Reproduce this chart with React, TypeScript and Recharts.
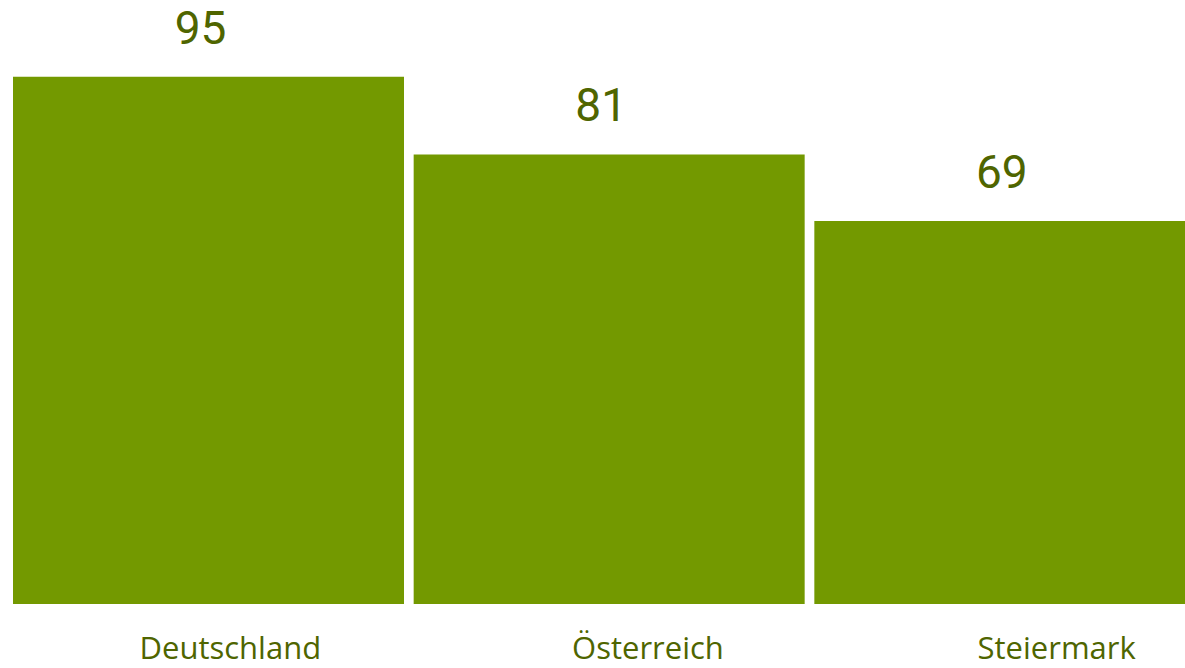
import { BarChart, Bar, XAxis, YAxis, LabelList } from "recharts";

const regions = ["Deutschland", "Österreich", "Steiermark"];
const scores = [95, 81, 69];

// horizontal nudges for the category captions (the source places them off-centre)
const tickShift = [22, 39, 47];

const data = regions.map((name, i) => ({ name, value: scores[i] }));

const BAR = "#739900";
const TEXT = "#4f6500";
const FONT = "'Open Sans', sans-serif";
// smaller ascent keeps the tallest value label inside the frame
const VALUE_FONT = "Roboto, 'Open Sans', sans-serif";

function CategoryTick(props: any) {
  const { x, payload, index } = props;
  return (
    <text
      x={x + (tickShift[index] ?? 0)}
      y={659}
      textAnchor="middle"
      fill={TEXT}
      fontFamily={FONT}
      fontSize={31}
    >
      {payload.value}
    </text>
  );
}

function ValueLabel(props: any) {
  const { x, y, width, value } = props;
  return (
    <text
      x={x + width / 2 - 8}
      y={y - 33}
      textAnchor="middle"
      fill={TEXT}
      fontFamily={VALUE_FONT}
      fontSize={46}
    >
      {value}
    </text>
  );
}

export default function App() {
  return (
    <div
      style={{
        position: "absolute",
        left: 0,
        top: 0,
        width: 1185,
        height: 668,
        overflow: "hidden",
        background: "#fff",
      }}
    >
      <BarChart
        width={1210}
        height={668}
        data={data}
        margin={{ top: 49, right: 0, bottom: 0, left: 8 }}
        barCategoryGap={5}
      >
        <XAxis
          dataKey="name"
          height={64}
          axisLine={false}
          tickLine={false}
          tick={<CategoryTick />}
          interval={0}
        />
        <YAxis hide domain={[0, 100]} />
        <Bar dataKey="value" fill={BAR} isAnimationActive={false}>
          <LabelList dataKey="value" content={<ValueLabel />} />
        </Bar>
      </BarChart>
    </div>
  );
}
